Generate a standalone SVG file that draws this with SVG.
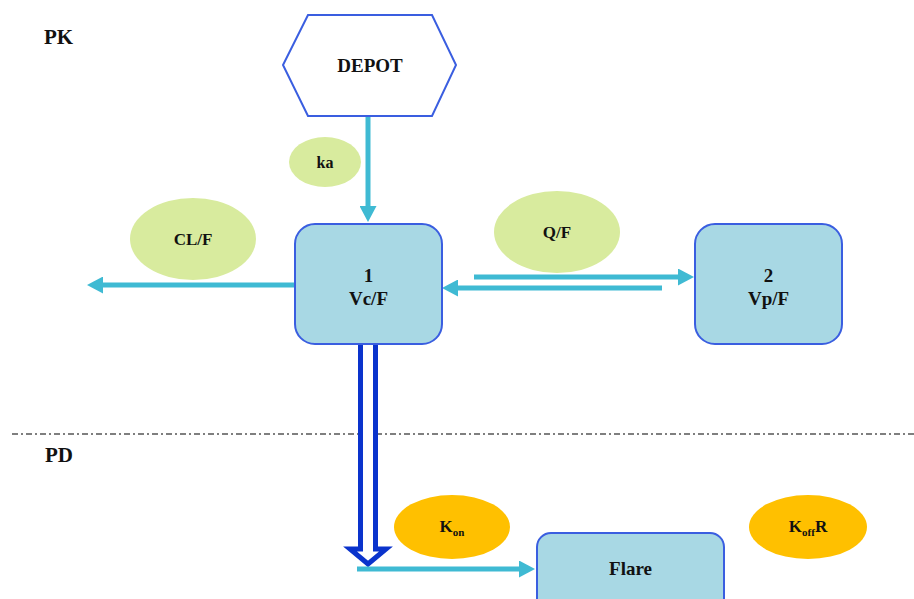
<svg xmlns="http://www.w3.org/2000/svg" width="914" height="599" viewBox="0 0 914 599">
  <style>
    text { font-family: "Liberation Serif", "Times New Roman", serif; font-weight: bold; fill: #111; text-anchor: middle; }
    .section { font-size: 21px; text-anchor: start; }
    .box { fill: #a8d8e4; stroke: #3a5ee0; stroke-width: 2; }
    .box-label { font-size: 19px; }
    .param { fill: #d8eb9e; }
    .rate { fill: #ffc000; }
    .param-label { font-size: 17px; }
    .sub { font-size: 11px; }
    .flow { stroke: #3fbad3; stroke-width: 5; fill: none; marker-end: url(#head); }
    .divider { stroke: #555; stroke-width: 1.6; stroke-dasharray: 6 3 2 3; fill: none; }
  </style>
  <defs>
    <marker id="head" markerUnits="userSpaceOnUse" markerWidth="16" markerHeight="17" refX="2" refY="8.5" orient="auto">
      <path d="M0,0 L16,8.5 L0,17 Z" fill="#3fbad3"/>
    </marker>
  </defs>

  <rect width="914" height="599" fill="#fff"/>

  <!-- section labels and PK/PD divider -->
  <text class="section" x="44" y="44">PK</text>
  <text class="section" x="45" y="462">PD</text>
  <line class="divider" x1="12" y1="434" x2="914" y2="434"/>

  <!-- connectors -->
  <g id="connectors">
    <line class="flow" x1="368" y1="116" x2="368" y2="208"/>
    <line class="flow" x1="295" y1="285" x2="101" y2="285"/>
    <line class="flow" x1="474" y1="277" x2="680" y2="277"/>
    <line class="flow" x1="662" y1="288" x2="456" y2="288"/>
    <!-- hollow block arrow from the central compartment into the PD part -->
    <path d="M360.5,344 L360.5,549 L350,549 L368,564 L386,549 L375.5,549 L375.5,344" fill="#fff" stroke="#0a33cc" stroke-width="5" stroke-linejoin="miter"/>
    <line class="flow" x1="357" y1="569" x2="521" y2="569"/>
  </g>

  <!-- compartments -->
  <g id="depot">
    <polygon points="308,15 432,15 456,65 432,116 308,116 283,65" fill="#fff" stroke="#3a5ee0" stroke-width="2"/>
    <text x="370" y="72" style="font-size:19px">DEPOT</text>
  </g>
  <g id="central">
    <rect class="box" x="295" y="224" width="147" height="120" rx="20"/>
    <text class="box-label" x="368.5" y="282">1</text>
    <text class="box-label" x="368.5" y="305">Vc/F</text>
  </g>
  <g id="peripheral">
    <rect class="box" x="695" y="224" width="147" height="120" rx="20"/>
    <text class="box-label" x="768.5" y="282">2</text>
    <text class="box-label" x="768.5" y="305">Vp/F</text>
  </g>
  <g id="flare">
    <rect class="box" x="537" y="533" width="187" height="80" rx="14"/>
    <text class="box-label" x="630.5" y="575">Flare</text>
  </g>

  <!-- parameters -->
  <g id="ka">
    <ellipse class="param" cx="325" cy="162" rx="36" ry="25"/>
    <text x="325" y="168" style="font-size:16px">ka</text>
  </g>
  <g id="clf">
    <ellipse class="param" cx="193" cy="239" rx="63" ry="41"/>
    <text class="param-label" x="193" y="245">CL/F</text>
  </g>
  <g id="qf">
    <ellipse class="param" cx="557" cy="232" rx="63" ry="41"/>
    <text class="param-label" x="557" y="238">Q/F</text>
  </g>
  <g id="kon">
    <ellipse class="rate" cx="452" cy="527" rx="58" ry="32"/>
    <text class="param-label" x="452" y="532">K<tspan class="sub" dy="4">on</tspan></text>
  </g>
  <g id="koffr">
    <ellipse class="rate" cx="808" cy="527" rx="59" ry="32"/>
    <text class="param-label" x="808" y="532">K<tspan class="sub" dy="4">off</tspan><tspan dy="-4">R</tspan></text>
  </g>
</svg>
